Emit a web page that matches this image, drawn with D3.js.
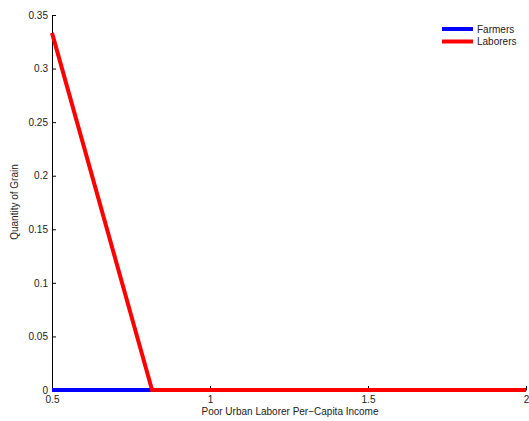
<!DOCTYPE html>
<html><head><meta charset="utf-8">
<script src="https://cdn.jsdelivr.net/npm/d3@7"></script>
<style>body{margin:0;background:#fff}svg{display:block}text{font-family:"Liberation Sans",Arial,sans-serif;fill:#222}</style>
</head><body><svg id="c" width="529" height="421"></svg>
<script>
const incomeX = [0.5, 0.8167, 2];
const farmers = [0, 0, 0];
const laborers = [0.3333, 0, 0];
const xTicks = [0.5, 1, 1.5, 2];
const xTickLabels = ["0.5", "1", "1.5", "2"];
const yTicks = [0, 0.05, 0.1, 0.15, 0.2, 0.25, 0.3, 0.35];
const yTickLabels = ["0", "0.05", "0.1", "0.15", "0.2", "0.25", "0.3", "0.35"];
const seriesNames = ["Farmers", "Laborers"];

const svg = d3.select("#c");
const L = 52, R = 526, T = 15, B = 390;
const x = d3.scaleLinear().domain([0.5, 2]).range([L, R]);
const y = d3.scaleLinear().domain([0, 0.35]).range([B, T]);

const xa = svg.append("g").attr("transform", `translate(0,${B})`)
  .call(d3.axisBottom(x).tickValues(xTicks).tickFormat((d,i)=>xTickLabels[i]).tickSizeInner(-4).tickSizeOuter(0).tickPadding(6));
const ya = svg.append("g").attr("transform", `translate(${L},0)`)
  .call(d3.axisLeft(y).tickValues(yTicks).tickFormat((d,i)=>yTickLabels[i]).tickSizeInner(-4).tickSizeOuter(0).tickPadding(4));
[xa, ya].forEach(a => {
  a.selectAll("path.domain").attr("stroke", "#000").attr("stroke-width", 1);
  a.selectAll(".tick line").attr("stroke", "#000");
  a.selectAll("text").attr("font-size", 10).attr("fill", "#222").attr("font-family", '"Liberation Sans",Arial,sans-serif');
});

const line = d3.line().x(d => x(d[0])).y(d => y(d[1]));
const colors = ["#0000ff", "#ff0000"];
[farmers, laborers].forEach((s, i) => {
  svg.append("path").datum(incomeX.map((v, j) => [v, s[j]]))
    .attr("d", line).attr("fill", "none").attr("stroke", colors[i]).attr("stroke-width", 4).attr("stroke-linejoin", "miter");
});

svg.append("text").attr("x", 290).attr("y", 415).attr("text-anchor", "middle").attr("font-size", 10)
  .text("Poor Urban Laborer Per\u2212Capita Income");
svg.append("text").attr("transform", "translate(18,202) rotate(-90)").attr("text-anchor", "middle").attr("font-size", 10)
  .text("Quantity of Grain");

const lg = svg.append("g");
seriesNames.forEach((n, i) => {
  const yy = 29 + i * 12.5;
  lg.append("line").attr("x1", 442).attr("x2", 473).attr("y1", yy).attr("y2", yy).attr("stroke", colors[i]).attr("stroke-width", 4);
  lg.append("text").attr("x", 477).attr("y", yy + 3.5).attr("font-size", 10).text(n);
});
</script></body></html>
